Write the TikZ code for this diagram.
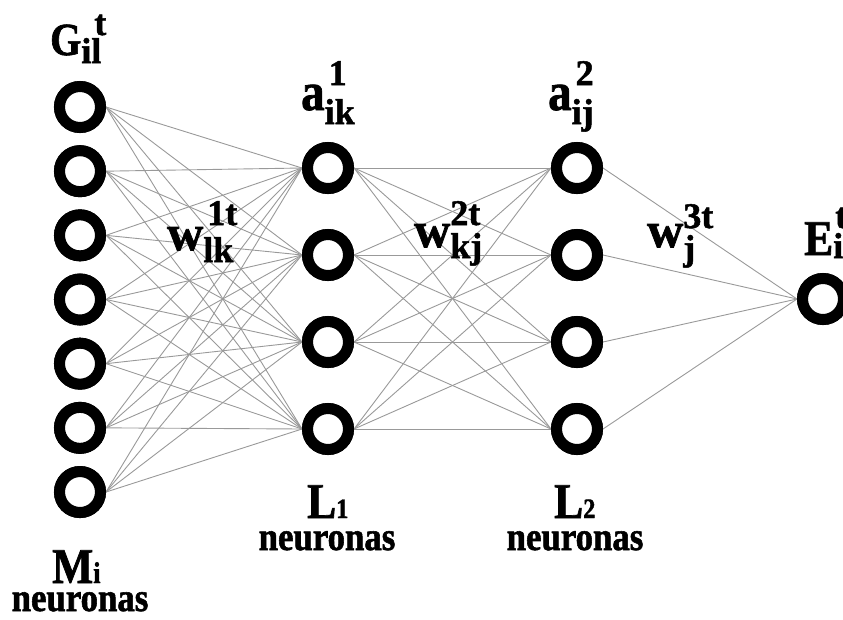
\documentclass[tikz,border=0pt]{standalone}
\usepackage{fontspec}
\setmainfont{Liberation Serif}[FakeBold=1.4]
\newfontfamily\narrowfont{Liberation Serif}[FakeStretch=0.87, FakeBold=1.4]

% main letter with stacked superscript and subscript
% #1 main size, #2 main text, #3 script size, #4 sup, #5 sup raise,
% #6 sup shift, #7 sub, #8 sub drop
\newcommand\varlabel[8]{%
  {\fontsize{#1}{#1}\selectfont #2}%
  {\fontsize{#3}{#3}\selectfont
   \rlap{\hspace*{#6}\raisebox{#5}{#4}}\raisebox{-#8}{#7}}}

\tikzset{
  neuron/.style={circle, draw=black, line width=11pt, minimum size=41pt,
                 inner sep=0pt, fill=white},
  link/.style={draw=black!40, line width=0.9pt},
  lbl/.style={anchor=base west, inner sep=0pt, font=\bfseries,
              text height=20pt, text depth=4pt},
  cnt/.style={anchor=base, inner sep=0pt, text height=14pt, text depth=0pt,
              font=\narrowfont\bfseries\fontsize{40}{40}\selectfont},
}

\begin{document}
\begin{tikzpicture}[x=1pt, y=-1pt]
\useasboundingbox (0,0) rectangle (843,619);

% input layer
\foreach \k in {1,...,7}
  \node[neuron] (in\k) at (80, {107 + 64.17*(\k-1)}) {};
% hidden layers
\foreach \k/\y in {1/168, 2/255, 3/342, 4/429} {
  \node[neuron] (ha\k) at (328, \y) {};
  \node[neuron] (hb\k) at (577, \y) {};
}
% output
\node[neuron] (out) at (823, 299) {};

% connections
\foreach \i in {1,...,7}
  \foreach \k in {1,...,4}
    \draw[link] (in\i.east) -- (ha\k.west);
\foreach \i in {1,...,4}
  \foreach \k in {1,...,4}
    \draw[link] (ha\i.east) -- (hb\k.west);
\foreach \i in {1,...,4}
  \draw[link] (hb\i.east) -- (out.west);

% neurons again, on top of the links
\foreach \k in {1,...,7}
  \node[neuron] at (in\k) {};
\foreach \k in {1,...,4} {
  \node[neuron] at (ha\k) {};
  \node[neuron] at (hb\k) {};
}
\node[neuron] at (out) {};

% layer variables
\node[lbl] (G) at (50,55) {\varlabel{46}{\narrowfont G}{36}{t}{20pt}{13pt}{il}{8pt}};
\node[lbl] (A1) at (301,110) {\varlabel{54}{\narrowfont a}{36}{1}{25pt}{4pt}{ik}{14pt}};
\node[lbl] (A2) at (548,110) {\varlabel{54}{\narrowfont a}{36}{2}{25pt}{4pt}{ij}{14pt}};
\node[lbl] (E) at (804,255) {\varlabel{50}{\narrowfont E}{36}{t}{27pt}{2pt}{i}{3pt}};

% weights
\node[lbl] (W1) at (167,250) {\varlabel{50}{w}{36}{1t}{25pt}{4pt}{lk}{12pt}};
\node[lbl] (W2) at (414,247) {\varlabel{50}{w}{36}{2t}{22pt}{0pt}{kj}{11pt}};
\node[lbl] (W3) at (647,247) {\varlabel{50}{w}{36}{3t}{19pt}{0pt}{j}{13pt}};

% layer sizes
\node[lbl] (M) at (52,583) {\narrowfont{\fontsize{50}{50}\selectfont M}{\fontsize{30}{30}\selectfont i}};
\node[cnt] (Mn) at (80,611) {neuronas};
\node[lbl] (L1) at (307,518) {\narrowfont{\fontsize{50}{50}\selectfont L}{\fontsize{28}{28}\selectfont 1}};
\node[cnt] (L1n) at (327,550) {neuronas};
\node[lbl] (L2) at (554,518) {\narrowfont{\fontsize{50}{50}\selectfont L}{\fontsize{28}{28}\selectfont 2}};
\node[cnt] (L2n) at (575,550) {neuronas};
\end{tikzpicture}
\end{document}
